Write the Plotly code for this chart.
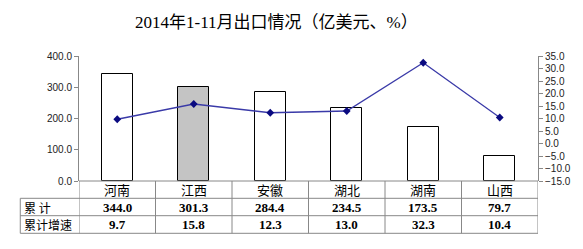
import plotly.graph_objects as go

categories = ["河南", "江西", "安徽", "湖北", "湖南", "山西"]
cumulative = [344.0, 301.3, 284.4, 234.5, 173.5, 79.7]
growth = [9.7, 15.8, 12.3, 13.0, 32.3, 10.4]
row_labels = ["累 计", "累计增速"]
title = "2014年1-11月出口情况（亿美元、%）"

bar_colors = ["white", "#c4c4c4", "white", "white", "white", "white"]
xs = list(range(len(categories)))

fig = go.Figure()
fig.add_trace(go.Bar(x=xs, y=cumulative, width=0.41, marker=dict(color=bar_colors, line=dict(color="black", width=1)),
                     showlegend=False))
fig.add_trace(go.Scatter(x=xs, y=growth, yaxis="y2", mode="lines+markers",
                         line=dict(color="#3a3aa8", width=1.3),
                         marker=dict(symbol="diamond", size=6, color="#0a0a80"), showlegend=False))

L, R, T, B = 79, 35, 56, 68
H = 249
W = 583
ph = H - T - B

def py(p):
    return (H - B - p) / ph

lines_y = [py(198.3), py(215.7), py(233.3)]
table_left = (19 - L) / (W - L - R)

shapes = []
shapes.append(dict(type="line", xref="paper", yref="paper", x0=0, x1=1, y0=0, y1=0, line=dict(color="#888", width=1)))
for i, yy in enumerate(lines_y):
    shapes.append(dict(type="line", xref="paper", yref="paper", x0=table_left, x1=1, y0=yy, y1=yy, line=dict(color="#888", width=1)))
for k in range(len(categories) + 1):
    shapes.append(dict(type="line", xref="x", yref="paper", x0=k - 0.5, x1=k - 0.5, y0=0, y1=lines_y[2], line=dict(color="#888", width=1)))
shapes.append(dict(type="line", xref="paper", yref="paper", x0=table_left, x1=table_left, y0=lines_y[0], y1=lines_y[2], line=dict(color="#888", width=1)))

ann = []
ann.append(dict(text=title, xref="paper", yref="paper", x=(281 - L) / (W - L - R), y=py(22), xanchor="center", yanchor="middle",
                showarrow=False, font=dict(family="Liberation Serif, Noto Sans CJK SC", size=17, color="black")))
row_cy = [(0 + lines_y[0]) / 2, (lines_y[0] + lines_y[1]) / 2, (lines_y[1] + lines_y[2]) / 2]
for i, c in enumerate(categories):
    ann.append(dict(text=c, x=i, xref="x", yref="paper", y=row_cy[0], xanchor="center", yanchor="middle", showarrow=False,
                    font=dict(family="Noto Sans CJK SC", size=13, color="black")))
    ann.append(dict(text="<b>%.1f</b>" % cumulative[i], x=i, xref="x", yref="paper", y=row_cy[1], xanchor="center", yanchor="middle",
                    showarrow=False, font=dict(family="Liberation Serif", size=13, color="black")))
    ann.append(dict(text="<b>%.1f</b>" % growth[i], x=i, xref="x", yref="paper", y=row_cy[2], xanchor="center", yanchor="middle",
                    showarrow=False, font=dict(family="Liberation Serif", size=13, color="black")))
for j, lab in enumerate(row_labels):
    ann.append(dict(text=lab, xref="paper", yref="paper", x=table_left + 0.004, xanchor="left", y=row_cy[j + 1], yanchor="middle",
                    showarrow=False, font=dict(family="Noto Sans CJK SC", size=12, color="black")))

tickfont = dict(family="Liberation Sans, Arial", size=10, color="#222")
fig.update_layout(
    width=W, height=H, margin=dict(l=L, r=R, t=T, b=B),
    paper_bgcolor="white", plot_bgcolor="white",
    xaxis=dict(range=[-0.5, 5.5], showticklabels=False, showgrid=False, zeroline=False, showline=False, ticks=""),
    yaxis=dict(range=[0, 400], dtick=100, tickformat=".1f", showgrid=False, zeroline=False, showline=True,
               linecolor="#888", ticks="outside", ticklen=4, tickcolor="#888", tickfont=tickfont),
    yaxis2=dict(range=[-15, 35], dtick=5, tickformat=".1f", overlaying="y", side="right", showgrid=False, zeroline=False,
                showline=True, linecolor="#888", ticks="outside", ticklen=4, tickcolor="#888", tickfont=tickfont),
    shapes=shapes, annotations=ann, bargap=0,
)
fig.write_html("out.html")
